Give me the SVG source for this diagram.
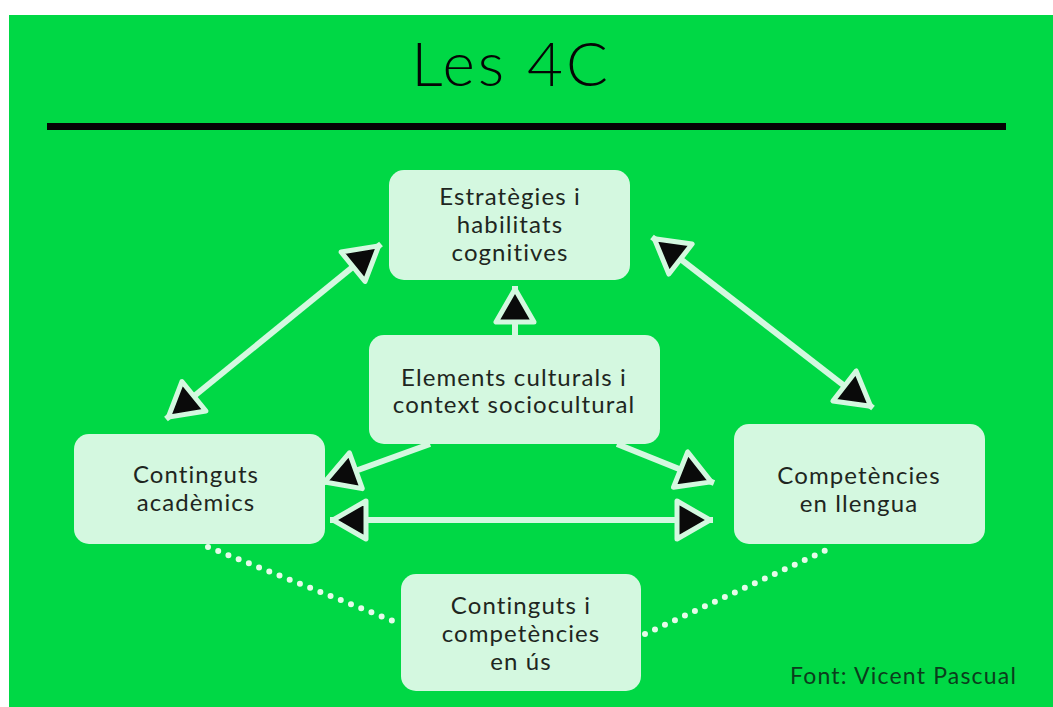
<svg xmlns="http://www.w3.org/2000/svg" width="1053" height="707" viewBox="0 0 1053 707">
  <style>
    .box { fill: #d4f8e0; }
    .lbl { font-family: Lato, "Noto Sans", "DejaVu Sans", sans-serif; font-size: 24px; letter-spacing: 1.1px; font-variant-ligatures: none; fill: #1e2621; text-anchor: middle; }
    .conn { stroke: #d4f8e0; stroke-width: 6; fill: none; }
    .dots { stroke: #e6fbea; stroke-width: 6; stroke-linecap: round; stroke-dasharray: 0 11; fill: none; }
  </style>
  <defs>
    <marker id="head" markerUnits="userSpaceOnUse" viewBox="-42 -25 48 50" markerWidth="48" markerHeight="50" refX="0" refY="0" orient="auto-start-reverse">
      <path d="M-3,0 L-36,-19 L-36,19 Z" fill="#0a0a0a" stroke="#d4f8e0" stroke-width="5" stroke-linejoin="round"/>
    </marker>
  </defs>
  <rect x="0" y="0" width="1053" height="707" fill="#ffffff"/>
  <rect x="9" y="15" width="1044" height="692" fill="#00d845"/>
  <text x="511" y="86" font-family="Lato, 'Noto Sans', sans-serif" font-weight="300" font-size="62" letter-spacing="3" fill="#050505" text-anchor="middle">Les 4C</text>
  <rect x="47" y="123" width="959" height="7" fill="#050505"/>

  <g id="connectors">
    <line class="conn" x1="166" y1="419" x2="381" y2="244" marker-start="url(#head)" marker-end="url(#head)"/>
    <line class="conn" x1="652" y1="237" x2="873" y2="408" marker-start="url(#head)" marker-end="url(#head)"/>
    <line class="conn" x1="515" y1="336" x2="515" y2="286" marker-end="url(#head)"/>
    <line class="conn" x1="430" y1="444" x2="322" y2="483" marker-end="url(#head)"/>
    <line class="conn" x1="617" y1="444" x2="714" y2="483" marker-end="url(#head)"/>
    <line class="conn" x1="330" y1="520" x2="713" y2="520" marker-start="url(#head)" marker-end="url(#head)"/>
    <line class="dots" x1="208" y1="547" x2="393" y2="621"/>
    <line class="dots" x1="645" y1="634" x2="833" y2="547"/>
  </g>

  <g id="node-estrategies">
    <rect class="box" x="389" y="170" width="241" height="110" rx="15"/>
    <text class="lbl" x="510" y="205">Estratègies i</text>
    <text class="lbl" x="510" y="233">habilitats</text>
    <text class="lbl" x="510" y="261">cognitives</text>
  </g>
  <g id="node-elements">
    <rect class="box" x="369" y="335" width="291" height="109" rx="15"/>
    <text class="lbl" x="514" y="386">Elements culturals i</text>
    <text class="lbl" x="514" y="413">context sociocultural</text>
  </g>
  <g id="node-continguts">
    <rect class="box" x="74" y="434" width="251" height="110" rx="15"/>
    <text class="lbl" x="196" y="483">Continguts</text>
    <text class="lbl" x="196" y="511">acadèmics</text>
  </g>
  <g id="node-competencies">
    <rect class="box" x="734" y="424" width="251" height="120" rx="15"/>
    <text class="lbl" x="859" y="484">Competències</text>
    <text class="lbl" x="859" y="512">en llengua</text>
  </g>
  <g id="node-us">
    <rect class="box" x="401" y="574" width="240" height="117" rx="15"/>
    <text class="lbl" x="521" y="614">Continguts i</text>
    <text class="lbl" x="521" y="642">competències</text>
    <text class="lbl" x="521" y="670">en ús</text>
  </g>
  <text x="790" y="684" font-family="Lato, 'Noto Sans', sans-serif" font-size="23" letter-spacing="1.2" font-variant-ligatures="none" fill="#0b3d1c">Font: Vicent Pascual</text>
</svg>
